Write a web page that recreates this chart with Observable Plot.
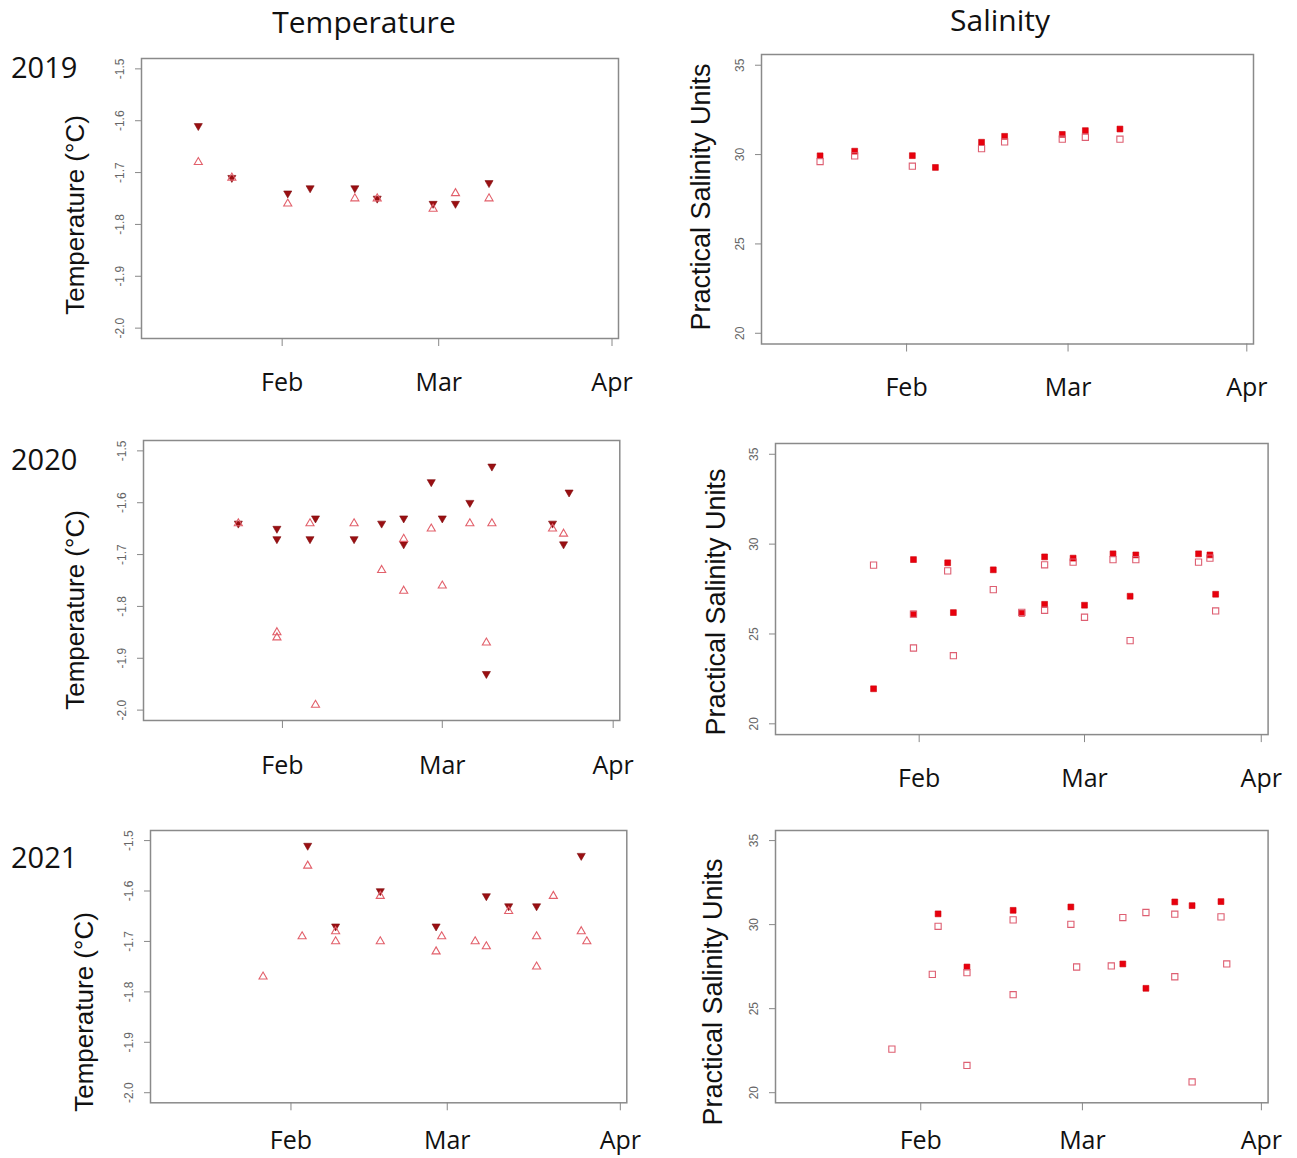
<!DOCTYPE html>
<html><head><meta charset="utf-8">
<script src="https://cdn.jsdelivr.net/npm/d3@7"></script>
<script src="https://cdn.jsdelivr.net/npm/@observablehq/plot@0.6"></script>
<style>
body{margin:0;background:#fff;}
#wrap{position:relative;width:1297px;height:1158px;overflow:hidden;background:#fff;}
</style></head><body><div id="wrap"></div>
<script>
// ---------- DATA ----------
const years = [2019, 2020, 2021];
const columnTitles = ["Temperature", "Salinity"];
const monthTicks = ["02-01", "03-01", "04-01"];
const tempTicks = [-2.0, -1.9, -1.8, -1.7, -1.6, -1.5];
const salTicks = [20, 25, 30, 35];
const tempLabel = "Temperature (°C)";
const salLabel = "Practical Salinity Units";

// 2019 temperature
const t19FilledDates = ["2019-01-17","2019-01-23","2019-02-02","2019-02-06","2019-02-14","2019-02-18","2019-02-28","2019-03-04","2019-03-10"];
const t19Filled = [-1.61,-1.71,-1.74,-1.73,-1.73,-1.75,-1.76,-1.76,-1.72];
const t19OpenDates = ["2019-01-17","2019-01-23","2019-02-02","2019-02-14","2019-02-18","2019-02-28","2019-03-04","2019-03-10"];
const t19Open = [-1.68,-1.71,-1.76,-1.75,-1.75,-1.77,-1.74,-1.75];
// 2019 salinity
const s19FilledDates = ["2019-01-17","2019-01-23","2019-02-02","2019-02-06","2019-02-14","2019-02-18","2019-02-28","2019-03-04","2019-03-10"];
const s19Filled = [29.93,30.19,29.94,29.28,30.69,31.02,31.13,31.34,31.43];
const s19OpenDates = ["2019-01-17","2019-01-23","2019-02-02","2019-02-14","2019-02-18","2019-02-28","2019-03-04","2019-03-10"];
const s19Open = [29.61,29.93,29.35,30.33,30.71,30.86,30.97,30.86];

// 2020 temperature
const t20FilledDates = ["2020-01-24","2020-01-31","2020-01-31","2020-02-06","2020-02-07","2020-02-14","2020-02-19","2020-02-23","2020-02-23","2020-02-28","2020-03-01","2020-03-06","2020-03-09","2020-03-10","2020-03-21","2020-03-23","2020-03-24"];
const t20Filled = [-1.64,-1.65,-1.67,-1.67,-1.63,-1.67,-1.64,-1.63,-1.68,-1.56,-1.63,-1.60,-1.93,-1.53,-1.64,-1.68,-1.58];
const t20OpenDates = ["2020-01-24","2020-01-31","2020-01-31","2020-02-06","2020-02-07","2020-02-14","2020-02-19","2020-02-23","2020-02-23","2020-02-28","2020-03-01","2020-03-06","2020-03-09","2020-03-10","2020-03-21","2020-03-23"];
const t20Open = [-1.64,-1.85,-1.86,-1.64,-1.99,-1.64,-1.73,-1.67,-1.77,-1.65,-1.76,-1.64,-1.87,-1.64,-1.65,-1.66];
// 2020 salinity
const s20FilledDates = ["2020-01-24","2020-01-31","2020-01-31","2020-02-06","2020-02-07","2020-02-14","2020-02-19","2020-02-23","2020-02-23","2020-02-28","2020-03-01","2020-03-06","2020-03-09","2020-03-10","2020-03-21","2020-03-23","2020-03-24"];
const s20Filled = [21.95,29.14,26.11,28.96,26.19,28.57,26.15,29.29,26.65,29.22,26.60,29.46,27.10,29.40,29.46,29.40,27.21];
const s20OpenDates = ["2020-01-24","2020-01-31","2020-01-31","2020-02-06","2020-02-07","2020-02-14","2020-02-19","2020-02-23","2020-02-23","2020-02-28","2020-03-01","2020-03-06","2020-03-09","2020-03-10","2020-03-21","2020-03-23","2020-03-24"];
const s20Open = [28.83,26.10,24.22,28.51,23.79,27.47,26.20,28.85,26.32,29.00,25.93,29.14,24.63,29.14,29.00,29.22,26.28];

// 2021 temperature
const t21FilledDates = ["2021-02-04","2021-02-09","2021-02-17","2021-02-27","2021-03-08","2021-03-12","2021-03-17","2021-03-25"];
const t21Filled = [-1.51,-1.67,-1.60,-1.67,-1.61,-1.63,-1.63,-1.53];
const t21OpenDates = ["2021-01-27","2021-02-03","2021-02-04","2021-02-09","2021-02-09","2021-02-17","2021-02-17","2021-02-27","2021-02-28","2021-03-06","2021-03-08","2021-03-12","2021-03-17","2021-03-17","2021-03-20","2021-03-25","2021-03-26"];
const t21Open = [-1.77,-1.69,-1.55,-1.68,-1.70,-1.61,-1.70,-1.72,-1.69,-1.70,-1.71,-1.64,-1.69,-1.75,-1.61,-1.68,-1.70];
// 2021 salinity
const s21FilledDates = ["2021-02-04","2021-02-09","2021-02-17","2021-02-27","2021-03-08","2021-03-12","2021-03-17","2021-03-20","2021-03-25"];
const s21Filled = [30.64,27.48,30.85,31.05,27.66,26.21,31.35,31.13,31.37];
const s21OpenDates = ["2021-01-27","2021-02-03","2021-02-04","2021-02-09","2021-02-09","2021-02-17","2021-02-17","2021-02-27","2021-02-28","2021-03-06","2021-03-08","2021-03-12","2021-03-17","2021-03-17","2021-03-20","2021-03-25","2021-03-26"];
const s21Open = [22.59,27.04,29.90,27.14,21.62,30.28,25.83,30.02,27.48,27.54,30.42,30.72,30.62,26.90,20.64,30.46,27.66];

// ---------- LAYOUT ----------
const frames = {
  "2019T": {l:141, r:618, t:58, b:338, pad:27},
  "2019S": {l:761, r:1253, t:54, b:343.5, pad:26},
  "2020T": {l:142.7, r:619, t:440, b:720, pad:28},
  "2020S": {l:775, r:1267.6, t:443.3, b:734.4, pad:27},
  "2021T": {l:150.2, r:626.5, t:830, b:1102.3, pad:20},
  "2021S": {l:775, r:1267.6, t:830, b:1102.3, pad:20}
};
const ML = 60, MR = 40, MT = 10, MB = 70;
const wrap = document.getElementById("wrap");

function pairs(dates, vals) { return dates.map((s, i) => ({date: new Date(s + "T00:00:00Z"), value: vals[i]})); }

function xDomain(year) {
  const a = Date.UTC(year, 0, 10), b = Date.UTC(year, 2, 30);
  const pad = (b - a) * 0.04;
  return [new Date(a - pad), new Date(b + pad)];
}
function expand(lo, hi) { const p = (hi - lo) * 0.04; return [lo - p, hi + p]; }

const triangleDown = {
  draw(context, size) {
    const y = -Math.sqrt(size / (Math.sqrt(3) * 3));
    context.moveTo(0, -y * 2);
    context.lineTo(-Math.sqrt(3) * y, y);
    context.lineTo(Math.sqrt(3) * y, y);
    context.closePath();
  }
};

function panel(key, year, kind, filled, open) {
  const f = frames[key];
  const isT = kind === "T";
  const yTicks = isT ? tempTicks : salTicks;
  const yDom = isT ? expand(-2.0, -1.5) : expand(20, 35);
  const marks = [
    Plot.frame({stroke: "#8a8a8a", strokeWidth: 1.5}),
    Plot.axisY({ticks: yTicks, tickFormat: d => isT ? d.toFixed(1) : String(d), tickSize: 6, tickPadding: 15,
      tickRotate: -90, textAnchor: "middle", lineAnchor: "middle", fontSize: 12,
      fontFamily: "Liberation Sans, Arial, sans-serif", stroke: "#888", fill: "#666", label: null}),
    Plot.axisX({ticks: monthTicks.map(m => new Date(`${year}-${m}T00:00:00Z`)), tickFormat: d3.utcFormat("%b"),
      tickSize: 8, tickPadding: f.pad, fontSize: 25, fontFamily: "Open Sans, sans-serif",
      stroke: "#888", fill: "#111", label: null})
  ];
  if (isT) {
    marks.push(Plot.dot(filled, {x: "date", y: "value", symbol: triangleDown, r: 3.0, fill: "#9a0f12", stroke: "#7d0a0c", strokeWidth: 0.6}));
    marks.push(Plot.dot(open, {x: "date", y: "value", symbol: "triangle", r: 3.0, fill: "none", stroke: "#e2606b", strokeWidth: 1.1}));
  } else {
    marks.push(Plot.dot(filled, {x: "date", y: "value", symbol: "square", r: 3.3, fill: "#e8000d", stroke: "#d0000a", strokeWidth: 0.6}));
    marks.push(Plot.dot(open, {x: "date", y: "value", symbol: "square", r: 3.5, fill: "none", stroke: "#de5f72", strokeWidth: 1.1}));
  }
  const svg = Plot.plot({
    width: (f.r - f.l) + ML + MR,
    height: (f.b - f.t) + MT + MB,
    marginLeft: ML, marginRight: MR, marginTop: MT, marginBottom: MB,
    x: {type: "utc", domain: xDomain(year)},
    y: {domain: yDom},
    style: {background: "transparent", overflow: "visible"},
    marks
  });
  svg.style.position = "absolute";
  svg.style.left = (f.l - ML) + "px";
  svg.style.top = (f.t - MT) + "px";
  wrap.appendChild(svg);
}

panel("2019T", 2019, "T", pairs(t19FilledDates, t19Filled), pairs(t19OpenDates, t19Open));
panel("2019S", 2019, "S", pairs(s19FilledDates, s19Filled), pairs(s19OpenDates, s19Open));
panel("2020T", 2020, "T", pairs(t20FilledDates, t20Filled), pairs(t20OpenDates, t20Open));
panel("2020S", 2020, "S", pairs(s20FilledDates, s20Filled), pairs(s20OpenDates, s20Open));
panel("2021T", 2021, "T", pairs(t21FilledDates, t21Filled), pairs(t21OpenDates, t21Open));
panel("2021S", 2021, "S", pairs(s21FilledDates, s21Filled), pairs(s21OpenDates, s21Open));

// ---------- TITLES / LABELS ----------
const ov = d3.select(wrap).append("svg")
  .attr("width", 1297).attr("height", 1158)
  .style("position", "absolute").style("left", "0px").style("top", "0px")
  .style("pointer-events", "none");

ov.append("text").attr("x", 364).attr("y", 33).attr("text-anchor", "middle")
  .attr("font-family", "Open Sans").attr("font-size", 30).attr("fill", "#111").text(columnTitles[0]);
ov.append("text").attr("x", 1000).attr("y", 31).attr("text-anchor", "middle")
  .attr("font-family", "Open Sans").attr("font-size", 30).attr("fill", "#111").text(columnTitles[1]);

const yearBaselines = [78, 470, 868];
years.forEach((y, i) => {
  ov.append("text").attr("x", 11).attr("y", yearBaselines[i])
    .attr("font-family", "Open Sans").attr("font-size", 29).attr("fill", "#111").text(String(y));
});

const tempTitlePos = [[75, 215], [75, 610], [84, 1012]];
const salTitlePos = [[701, 197], [716, 602], [713, 992]];
tempTitlePos.forEach(([x, y]) => {
  ov.append("text").attr("transform", `translate(${x},${y}) rotate(-90)`)
    .attr("text-anchor", "middle").attr("dominant-baseline", "central")
    .attr("font-family", "Liberation Sans, Arial").attr("font-size", 26).attr("fill", "#111").text(tempLabel);
});
salTitlePos.forEach(([x, y]) => {
  ov.append("text").attr("transform", `translate(${x},${y}) rotate(-90)`)
    .attr("text-anchor", "middle").attr("dominant-baseline", "central")
    .attr("font-family", "Liberation Sans, Arial").attr("font-size", 27).attr("fill", "#111").text(salLabel);
});
</script></body></html>
